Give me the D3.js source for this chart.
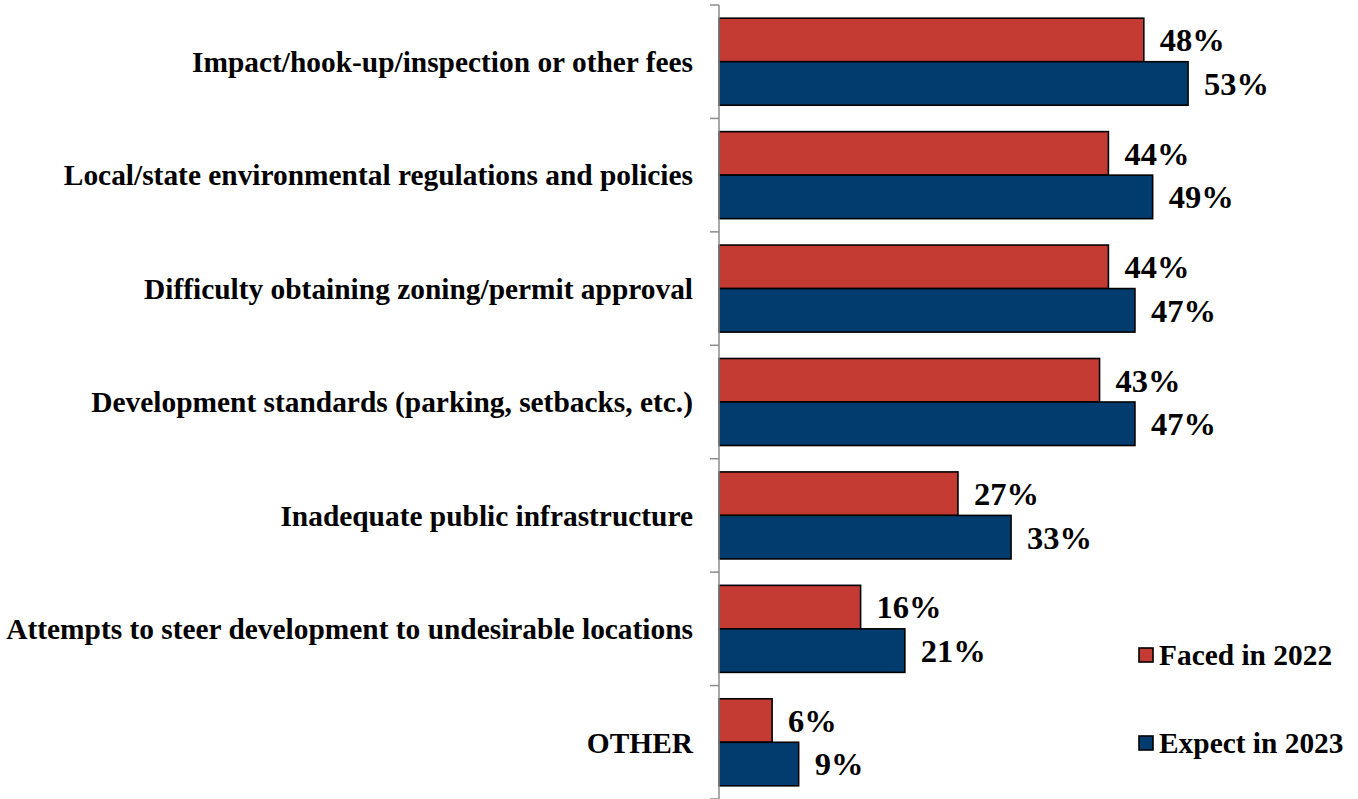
<!DOCTYPE html>
<html><head><meta charset="utf-8">
<script src="https://cdn.jsdelivr.net/npm/d3@7"></script>
<style>body{margin:0;background:#fff}svg{display:block}text{font-family:"Liberation Serif","Times New Roman",serif;font-weight:bold;fill:#000}</style>
</head><body><svg id="c" width="1358" height="799"></svg>
<script>
const categories = ["Impact/hook-up/inspection or other fees","Local/state environmental regulations and policies","Difficulty obtaining zoning/permit approval","Development standards (parking, setbacks, etc.)","Inadequate public infrastructure","Attempts to steer development to undesirable locations","OTHER"];
const seriesNames = ["Faced in 2022","Expect in 2023"];
const faced2022 = [48,44,44,43,27,16,6];
const expect2023 = [53,49,47,47,33,21,9];
const colors = ["#C43B33","#023C6E"];

(function(){
const svg = d3.select("#c");
const x0 = 719, plotTop = 5, plotBottom = 799;
const x = d3.scaleLinear().domain([0,60]).range([x0, x0 + 60*8.85]);
const y = d3.scaleBand().domain(categories).range([plotTop,plotBottom]).padding(0);
const pad = 13.2;
const ySub = d3.scaleBand().domain(seriesNames).range([pad, y.bandwidth()-pad]).padding(0);
const data = categories.map((c,i)=>({cat:c, vals:[faced2022[i], expect2023[i]]}));

const g = svg.append("g");
data.forEach(d=>{
  d.vals.forEach((v,j)=>{
    const yy = y(d.cat) + ySub(seriesNames[j]);
    g.append("rect").attr("x", x(0)).attr("y", yy).attr("width", x(v)-x(0)).attr("height", ySub.bandwidth())
      .attr("fill", colors[j]).attr("stroke","#000").attr("stroke-width",1.6);
    g.append("text").attr("x", x(v)+16).attr("y", yy + ySub.bandwidth()/2).attr("dy","0.35em")
      .attr("font-size", 32.5).text(v + "%");
  });
});

const ax = svg.append("g").attr("transform", `translate(${x0},0)`);
ax.append("line").attr("x1",0).attr("x2",0).attr("y1",plotTop).attr("y2",plotBottom).attr("stroke","#8c8c8c").attr("stroke-width",1.5);
const tickYs = categories.map(c=>y(c)).concat([plotBottom]);
tickYs.forEach(t=>ax.append("line").attr("x1",-9).attr("x2",0).attr("y1",t).attr("y2",t).attr("stroke","#8c8c8c").attr("stroke-width",1.5));
categories.forEach(c=>{
  ax.append("text").attr("x",-26).attr("y", y(c)+y.bandwidth()/2).attr("dy","0.35em")
    .attr("text-anchor","end").attr("font-size",29.4).text(c);
});

const leg = svg.append("g");
const legYs = [655, 743];
seriesNames.forEach((s,j)=>{
  leg.append("rect").attr("x",1139).attr("y",legYs[j]-7).attr("width",14).attr("height",14)
    .attr("fill",colors[j]).attr("stroke","#000").attr("stroke-width",1.6);
  leg.append("text").attr("x",1159).attr("y",legYs[j]).attr("dy","0.35em").attr("font-size",29.4).text(s);
});
})();
</script></body></html>
